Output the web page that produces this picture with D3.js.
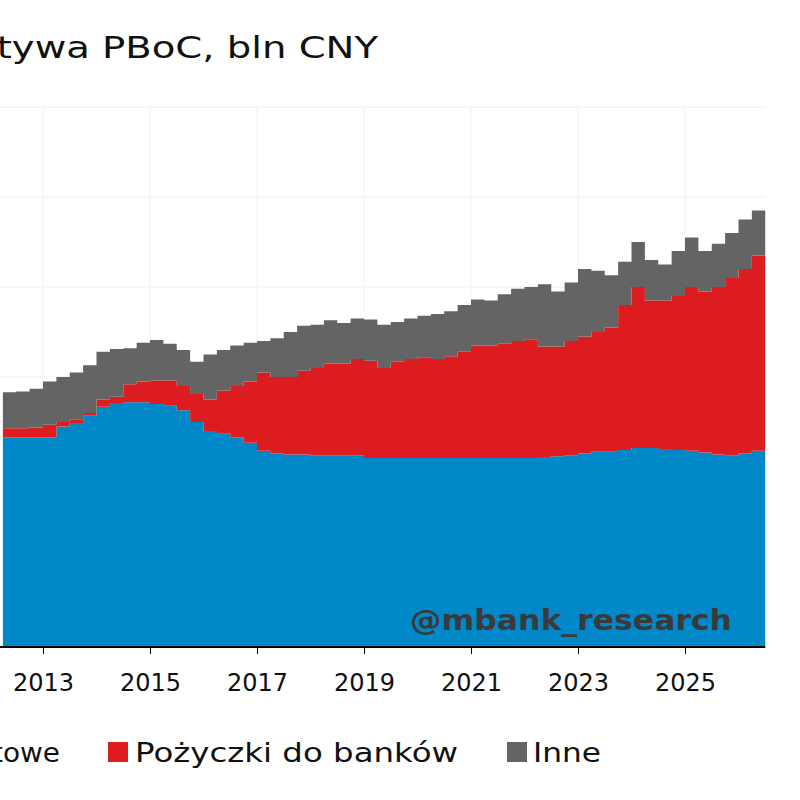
<!DOCTYPE html>
<html><head><meta charset="utf-8">
<script src="https://cdn.jsdelivr.net/npm/d3@7"></script>
<style>body{margin:0;background:#fff}svg{font-family:"DejaVu Sans",sans-serif}</style>
</head><body>
<script>
// quarterly, start 2012.25, bln CNY
start = 2012.25
rezerwy = [23300,23300,23300,23300,24500,24900,25700,26700,27100,27200,27200,27000,26800,26300,25000,24000,23700,23300,22700,21800,21500,21400,21400,21300,21300,21300,21300,21000,21000,21000,21000,21000,21000,21000,21000,21000,21000,21000,21000,21000,21100,21200,21300,21500,21700,21700,21900,22100,22100,22000,21900,21800,21600,21400,21300,21500,21800]
pozyczki = [1000,1000,1100,1400,500,400,300,800,700,2000,2300,2600,2800,2700,3100,3500,4800,5700,6800,8700,8500,8600,9300,9700,10200,10200,10700,10800,10000,10700,11000,11200,11000,11300,11800,12500,12500,12700,13000,13200,12300,12200,12700,13000,13300,13800,16100,17900,16400,16500,17100,18200,17900,18600,19700,20500,21700]
inne = [4000,4100,4300,4800,5000,5200,5300,5300,5300,4000,4300,4500,4100,4000,3600,5000,4500,4500,4300,3500,4300,5000,5000,4800,4800,4500,4500,4600,4800,4400,4500,4600,5000,5000,5200,5100,5000,5500,5800,5800,6900,6100,6500,7500,6800,5800,4800,5000,4500,4000,5000,5500,4500,4800,5000,5500,5000]
keys = ["Rezerwy walutowe", "Pożyczki do banków", "Inne"]
colors = ["#0088c9", "#dc1c1f", "#646464"]
years = [2013, 2015, 2017, 2019, 2021, 2023, 2025]
yTicks = [0, 10000, 20000, 30000, 40000, 50000, 60000]

data = rezerwy.map((v, i) => ({t: start + i / 4, a: v, b: pozyczki[i], c: inne[i]}))
end = 2026.5
width = 800, height = 800

x = d3.scaleLinear().domain([2013, 2025]).range([43, 685])
y = d3.scaleLinear().domain([0, 60000]).range([647, 107])

var svg = d3.select("body").append("svg").attr("width", width).attr("height", height)

// grid
svg.append("g").selectAll("line").data(yTicks.slice(1)).join("line")
	.attr("x1", 0).attr("x2", x(end)).attr("y1", d => y(d)).attr("y2", d => y(d))
	.attr("stroke", "#eee")
svg.append("g").selectAll("line").data(years).join("line")
	.attr("x1", d => x(d)).attr("x2", d => x(d)).attr("y1", y(0)).attr("y2", y(60000))
	.attr("stroke", "#f2f2f2")

var series = d3.stack().keys(["a", "b", "c"])(data.concat([{t: end, a: 0, b: 0, c: 0}]))
var area = d3.area().curve(d3.curveStepAfter)
	.x(d => x(d.data.t)).y0(d => y(d[0])).y1(d => y(d[1]))
// repeat last quarter to the end of the data
series.forEach(s => { var n = s.length; s[n - 1][0] = s[n - 2][0]; s[n - 1][1] = s[n - 2][1] })
svg.append("g").selectAll("path").data(series).join("path")
	.attr("fill", (d, i) => colors[i]).attr("d", area)

// x axis
var gx = svg.append("g").attr("transform", "translate(0," + y(0) + ")")
	.call(d3.axisBottom(x).tickValues(years).tickFormat(d3.format("d")).tickSize(7).tickPadding(20))
gx.select(".domain").attr("d", "M0,0H" + x(end)).attr("stroke", "#000").attr("stroke-width", 2)
gx.selectAll("text").attr("font-size", 24).attr("fill", "#111").attr("font-family", "DejaVu Sans")

svg.append("text").attr("x", 410).attr("y", 630).attr("textLength", 322).attr("lengthAdjust", "spacingAndGlyphs")
	.attr("font-size", 29).attr("font-weight", "bold").attr("fill", "#3a3a3a").text("@mbank_research")

svg.append("text").attr("x", -52).attr("y", 58).attr("textLength", 430).attr("lengthAdjust", "spacingAndGlyphs")
	.attr("font-size", 30).attr("fill", "#111").text("Aktywa PBoC, bln CNY")

// legend
var lg = svg.append("g").attr("font-size", 26).attr("fill", "#111")
lg.append("rect").attr("x", -310).attr("y", 742).attr("width", 20).attr("height", 20).attr("fill", colors[0])
lg.append("text").attr("x", -200).attr("y", 762).attr("textLength", 260).attr("lengthAdjust", "spacingAndGlyphs").text(keys[0])
lg.append("rect").attr("x", 108).attr("y", 742).attr("width", 20).attr("height", 20).attr("fill", colors[1])
lg.append("text").attr("x", 135).attr("y", 762).attr("textLength", 323).attr("lengthAdjust", "spacingAndGlyphs").text(keys[1])
lg.append("rect").attr("x", 507).attr("y", 742).attr("width", 20).attr("height", 20).attr("fill", colors[2])
lg.append("text").attr("x", 533).attr("y", 762).attr("textLength", 68).attr("lengthAdjust", "spacingAndGlyphs").text(keys[2])
</script>
</body></html>
